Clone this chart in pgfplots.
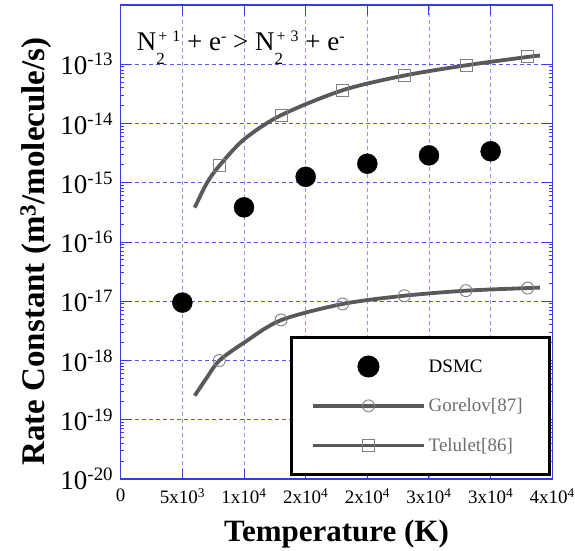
\documentclass[border=0pt]{standalone}
\usepackage{pgfplots}
\pgfplotsset{compat=1.18}
\usepackage{fontspec}
\setmainfont{Liberation Serif}
\definecolor{curvegray}{HTML}{595959}
\definecolor{markgray}{HTML}{808080}
\definecolor{txtgray}{HTML}{6E6E6E}
\definecolor{gridblue}{HTML}{3A3AE6}
\pgfplotsset{wide legend/.style={legend image code/.code={\draw[mark repeat=2,mark phase=2,##1] plot coordinates {(0pt,0pt)(55.5pt,0pt)(111pt,0pt)};}}}
\newcommand{\supx}[1]{\raisebox{9pt}{\fontsize{16}{16}\selectfont #1}}
\newcommand{\subx}[1]{\rlap{\raisebox{-14pt}{\fontsize{17}{17}\selectfont #1}}}
\newcommand{\legtxt}[1]{\makebox[98pt][l]{\fontsize{19}{22}\selectfont #1}}
\begin{document}
\begin{tikzpicture}
\useasboundingbox (0,0) rectangle (575pt,550pt);
\begin{axis}[
  at={(120.7pt,71pt)}, anchor=south west,
  scale only axis, width=431.6pt, height=474pt,
  xmin=0, xmax=35000, ymode=log, ymin=1e-20, ymax=1e-12,
  scaled x ticks=false,
  xtick={0,5000,10000,15000,20000,25000,30000,35000},
  xticklabels={0,5x10\textsuperscript{3},1x10\textsuperscript{4},2x10\textsuperscript{4},2x10\textsuperscript{4},3x10\textsuperscript{4},3x10\textsuperscript{4},4x10\textsuperscript{4}},
  ytick={1e-20,1e-19,1e-18,1e-17,1e-16,1e-15,1e-14,1e-13},
  yticklabels={10\textsuperscript{-20},10\textsuperscript{-19},10\textsuperscript{-18},10\textsuperscript{-17},10\textsuperscript{-16},10\textsuperscript{-15},10\textsuperscript{-14},10\textsuperscript{-13}},
  minor tick num=0,
  xticklabel style={font=\fontsize{19}{22}\selectfont, yshift=-6pt},
  yticklabel style={font=\fontsize{27}{30}\selectfont, xshift=-4pt},
  tick align=inside, major tick length=10pt,
  tick style={gridblue, line width=1pt},
  axis line style={gridblue, line width=1.3pt},
  grid=major,
  x grid style={gridblue!55, dash pattern=on 4pt off 3pt, line width=0.9pt},
  y grid style={gridblue!85, dash pattern=on 4pt off 3pt, line width=0.9pt},
  xlabel={Temperature (K)},
  xlabel style={font=\bfseries\fontsize{31}{34}\selectfont, at={(axis description cs:0.5,-0.132)}, anchor=base},
  ylabel={Rate Constant (m\textsuperscript{3}/molecule/s)},
  ylabel style={font=\bfseries\fontsize{33}{36}\selectfont, at={(axis description cs:-0.196,0.48)}, anchor=center},
  legend cell align=left,
  legend style={at={(axis description cs:0.9975,0.0055)}, anchor=south east,
    draw=black, line width=3pt, fill=white,
    font=\fontsize{19}{22}\selectfont,
    inner xsep=20pt, inner ysep=19pt, row sep=19pt,
    nodes={inner sep=3pt}, cells={anchor=west}},
]
% legend entries
\addlegendimage{only marks, mark=*, mark size=9.5pt, black, wide legend}
\addlegendentry{\legtxt{DSMC}}
\addlegendimage{curvegray, line width=3.5pt, mark=o, mark size=6pt, mark options={draw=markgray, line width=0.9pt, fill=none}, wide legend}
\addlegendentry{\legtxt{\textcolor{txtgray}{Gorelov[87]}}}
\addlegendimage{curvegray, line width=3.5pt, mark=square, mark size=6pt, mark options={draw=markgray, line width=0.9pt, fill=none}, wide legend}
\addlegendentry{\legtxt{\textcolor{txtgray}{Telulet[86]}}}

% Telulet curve
\addplot[forget plot, curvegray, line width=3.8pt, smooth, no marks] coordinates {
 (6000,3.8e-16) (7000,1.0e-15) (8000,1.94e-15) (10000,5.4e-15) (13000,1.38e-14)
 (18000,3.65e-14) (23000,6.45e-14) (28000,9.6e-14) (33000,1.33e-13) (34000,1.4e-13)};
\addplot[forget plot, only marks, mark=square, mark size=6pt, mark options={draw=markgray, line width=0.9pt, fill=none}] coordinates {
 (8000,1.94e-15) (13000,1.38e-14) (18000,3.65e-14) (23000,6.45e-14) (28000,9.6e-14) (33000,1.33e-13)};

% Gorelov curve
\addplot[forget plot, curvegray, line width=3.8pt, smooth, no marks] coordinates {
 (6000,2.55e-19) (7000,5.2e-19) (8000,1.0e-18) (10000,2.0e-18) (13000,4.8e-18)
 (18000,9.0e-18) (23000,1.24e-17) (28000,1.51e-17) (33000,1.67e-17) (34000,1.7e-17)};
\addplot[forget plot, only marks, mark=o, mark size=6pt, mark options={draw=markgray, line width=0.9pt, fill=none}] coordinates {
 (8000,1.0e-18) (13000,4.84e-18) (18000,9.0e-18) (23000,1.24e-17) (28000,1.51e-17) (33000,1.67e-17)};

% DSMC
\addplot[forget plot, only marks, mark=*, mark size=10pt, black] coordinates {
 (5000,9.5e-18) (10000,3.85e-16) (15000,1.26e-15) (20000,2.1e-15) (25000,2.9e-15) (30000,3.4e-15)};

\node[anchor=base west, font=\fontsize{27}{30}\selectfont, inner sep=0pt] at (axis description cs:0.037,0.905)
 {N\subx{2}\hspace{2pt}\supx{+\hspace{5pt}1} + e\supx{-} > N\subx{2}\hspace{2pt}\supx{+\hspace{5pt}3} + e\supx{-}};
\end{axis}
\end{tikzpicture}
\end{document}
